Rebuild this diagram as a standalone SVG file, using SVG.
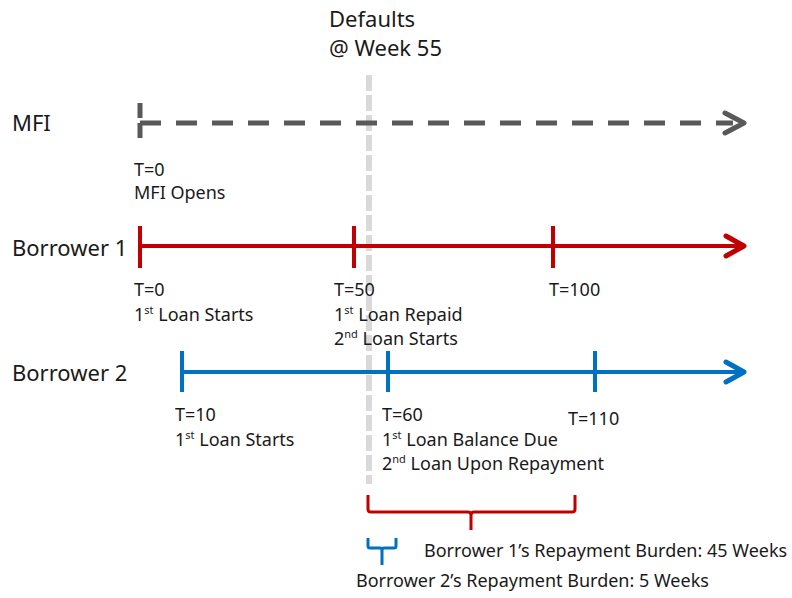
<svg xmlns="http://www.w3.org/2000/svg" width="792" height="598" viewBox="0 0 792 598">
<style>
text{font-family:"Noto Sans","Open Sans","DejaVu Sans",sans-serif;fill:#1a1a1a}
.big{font-size:22px}
.sm{font-size:18px}
.sup{font-size:11px}
.mfi{stroke:#595959;stroke-width:5;fill:none;stroke-dasharray:21 15}
.red{stroke:#C00000;stroke-width:4;fill:none}
.blue{stroke:#0070C0;stroke-width:4;fill:none}
.head{fill:none;stroke-width:5;stroke-linecap:round;stroke-linejoin:round}
</style>
<rect width="792" height="598" fill="#fff"/>
<g id="connectors">
<line x1="369" y1="75" x2="369" y2="484" stroke="#D9D9D9" stroke-width="6" stroke-dasharray="16 4"/>
</g>
<g id="mfi">
<text class="big" x="12" y="131">MFI</text>
<line class="mfi" x1="140" y1="103" x2="140" y2="143" style="stroke-dasharray:15 5"/>
<line class="mfi" x1="140" y1="123" x2="733" y2="123"/>
<polyline class="head" stroke="#595959" points="725,113 744,123 725,133"/>
<text class="sm" x="134" y="176">T=0</text>
<text class="sm" x="134" y="199">MFI Opens</text>
</g>
<g id="borrower1">
<text class="big" x="12" y="256">Borrower 1</text>
<line class="red" x1="140" y1="246" x2="740" y2="246"/>
<line class="red" x1="140" y1="226" x2="140" y2="268"/>
<line class="red" x1="354" y1="226" x2="354" y2="268"/>
<line class="red" x1="553" y1="226" x2="553" y2="268"/>
<polyline class="head" stroke="#C00000" points="726,236 744,246 726,256"/>
<text class="sm" x="134" y="296">T=0</text>
<text class="sm" x="134" y="321">1<tspan class="sup" dy="-7">st</tspan><tspan dy="7"> Loan Starts</tspan></text>
<text class="sm" x="334" y="296">T=50</text>
<text class="sm" x="334" y="321">1<tspan class="sup" dy="-7">st</tspan><tspan dy="7"> Loan Repaid</tspan></text>
<text class="sm" x="334" y="345">2<tspan class="sup" dy="-7">nd</tspan><tspan dy="7"> Loan Starts</tspan></text>
<text class="sm" x="549" y="296">T=100</text>
</g>
<g id="borrower2">
<text class="big" x="12" y="381">Borrower 2</text>
<line class="blue" x1="182" y1="372" x2="740" y2="372"/>
<line class="blue" x1="182" y1="351" x2="182" y2="392"/>
<line class="blue" x1="388" y1="351" x2="388" y2="392"/>
<line class="blue" x1="595" y1="351" x2="595" y2="392"/>
<polyline class="head" stroke="#0070C0" points="726,362 744,372 726,382"/>
<text class="sm" x="175" y="421">T=10</text>
<text class="sm" x="175" y="446">1<tspan class="sup" dy="-7">st</tspan><tspan dy="7"> Loan Starts</tspan></text>
<text class="sm" x="382" y="421">T=60</text>
<text class="sm" x="382" y="446">1<tspan class="sup" dy="-7">st</tspan><tspan dy="7"> Loan Balance Due</tspan></text>
<text class="sm" x="382" y="470">2<tspan class="sup" dy="-7">nd</tspan><tspan dy="7"> Loan Upon Repayment</tspan></text>
<text class="sm" x="568" y="425">T=110</text>
</g>
<g id="defaults">
<text class="big" x="329" y="27">Defaults</text>
<text class="big" x="329" y="56">@ Week 55</text>
</g>
<g id="burden1">
<path d="M368,495 V509 Q368,512 371,512 H468 Q471,512 471,515 V530 M471,515 Q471,512 474,512 H572 Q575,512 575,509 V495" stroke="#C00000" stroke-width="3" fill="none"/>
<text class="sm" x="424" y="557">Borrower 1’s Repayment Burden: 45 Weeks</text>
</g>
<g id="burden2">
<path d="M368,538 V546 Q368,548 370,548 H380 Q382,548 382,550 V565 M382,550 Q382,548 384,548 H394 Q396,548 396,546 V538" stroke="#0070C0" stroke-width="3" fill="none"/>
<text class="sm" x="356" y="587">Borrower 2’s Repayment Burden: 5 Weeks</text>
</g>
</svg>
